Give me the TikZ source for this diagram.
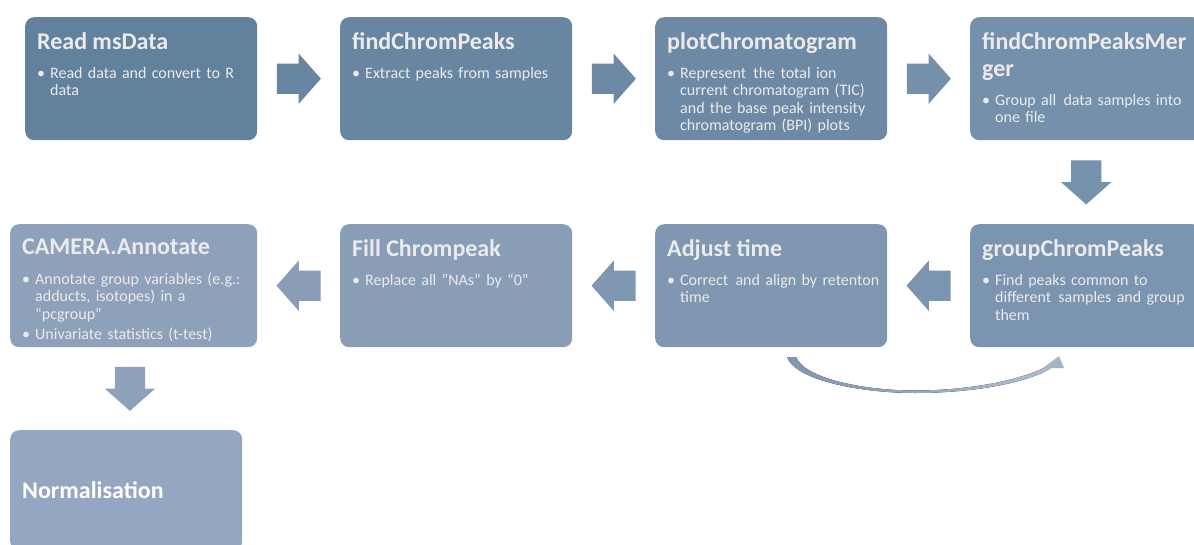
\documentclass[tikz,border=0pt]{standalone}
\usepackage{fontspec}
\setmainfont{Carlito}
\usetikzlibrary{positioning,calc,shapes.arrows}

\definecolor{readcol}{HTML}{62819D}
\definecolor{findcol}{HTML}{6886A2}
\definecolor{plotcol}{HTML}{6E89A6}
\definecolor{mergecol}{HTML}{7590AB}
\definecolor{groupcol}{HTML}{7B94AF}
\definecolor{adjustcol}{HTML}{8097B1}
\definecolor{fillcol}{HTML}{899DB7}
\definecolor{cameracol}{HTML}{8EA1BA}
\definecolor{normcol}{HTML}{95A6C0}

\newcommand{\steptitle}[1]{{\fontsize{24}{27}\selectfont\bfseries #1\par}\vspace{12pt}}
\newcommand{\stepitem}[1]{\par\noindent\makebox[13pt][l]{\textbullet}%
  \parbox[t]{\dimexpr\hsize-13pt\relax}{\raggedright #1}}

\begin{document}
\begin{tikzpicture}[x=1pt,y=-1pt,
  stepbox/.style={rounded corners=9pt, minimum width=232pt, minimum height=123pt,
    anchor=north west, inner sep=0pt},
  steptext/.style={anchor=north west, text width=222pt, inner xsep=12pt, inner ysep=15pt,
    align=left, text=white!92!black, font=\fontsize{16}{17.4}\selectfont},
  flowarrow/.style={single arrow, single arrow head extend=10pt, single arrow tip angle=97,
    minimum height=44pt, inner xsep=0pt, inner ysep=15pt, anchor=tail}
]
\useasboundingbox (0,0) rectangle (1194,544);

% first row
\node[stepbox, fill=readcol] (read) at (25,17) {};
\node[stepbox, fill=findcol] (find) at (340,17) {};
\node[stepbox, fill=plotcol] (plot) at (655,17) {};
\node[stepbox, fill=mergecol] (merge) at (970,17) {};

% second row
\node[stepbox, fill=groupcol] (group) at (970,224) {};
\node[stepbox, fill=adjustcol] (adjust) at (655,224) {};
\node[stepbox, fill=fillcol] (fill) at (340,224) {};
\node[stepbox, fill=cameracol, minimum width=247pt] (camera) at (10,224) {};

% last step
\node[stepbox, fill=normcol, minimum height=120pt, text width=208pt, inner xsep=12pt,
  align=left, text=white, font=\fontsize{24}{27}\selectfont\bfseries] (norm) at (10,430) {Normalisation};

% texts
\node[steptext] (readT) at (read.north west) {\steptitle{Read msData}%
  \stepitem{Read data and convert to R\newline data}};
\node[steptext] (findT) at (find.north west) {\steptitle{findChromPeaks}%
  \stepitem{Extract peaks from samples}};
\node[steptext] (plotT) at (plot.north west) {\steptitle{plotChromatogram}%
  \stepitem{Represent \kern2pt the total ion\newline current chromatogram (TIC)\newline and the base peak intensity\newline chromatogram (BPI) plots}};
\node[steptext] (mergeT) at (merge.north west) {\steptitle{findChromPeaksMer\newline ger}%
  \stepitem{Group all \kern2pt data samples into\newline one file}};
\node[steptext] (groupT) at (group.north west) {\steptitle{groupChromPeaks}%
  \stepitem{Find peaks common to\newline different \kern2pt samples and group\newline them}};
\node[steptext] (adjustT) at (adjust.north west) {\steptitle{Adjust time}%
  \stepitem{Correct \kern2pt and align by retenton\newline time}};
\node[steptext] (fillT) at (fill.north west) {\steptitle{Fill Chrompeak}%
  \stepitem{Replace all ”NAs” by “0”}};
\node[steptext, text width=240pt] (cameraT) at (camera.north west) {\steptitle{CAMERA.Annotate}%
  \stepitem{Annotate group variables (e.g.:\newline adducts, isotopes) in a\newline “pcgroup”}%
  \par\vspace{5pt}\stepitem{Univariate statistics (t-test)}};

% block arrows
\node[flowarrow, fill=findcol] (a1) at ($(read.east)!0.5!(find.west)+(-22,0)$) {};
\node[flowarrow, fill=plotcol] (a2) at ($(find.east)!0.5!(plot.west)+(-22,0)$) {};
\node[flowarrow, fill=mergecol] (a3) at ($(plot.east)!0.5!(merge.west)+(-22,0)$) {};
\node[flowarrow, fill=mergecol!85!groupcol, rotate=-90] (a4) at ($(merge.south)!0.5!(group.north)+(0,-22)$) {};
\node[flowarrow, fill=groupcol, rotate=180] (a5) at ($(group.west)!0.5!(adjust.east)+(22,0)$) {};
\node[flowarrow, fill=adjustcol, rotate=180] (a6) at ($(adjust.west)!0.5!(fill.east)+(22,0)$) {};
\node[flowarrow, fill=fillcol, rotate=180] (a7) at ($(fill.west)!0.5!(camera.east)+(22,0)$) {};
\node[flowarrow, fill=cameracol, rotate=-90] (a8) at ($(camera.south)!0.5!(norm.north)+(0,-22)$) {};

% curved arrow back under the second row
\coordinate (c1) at (787,357);
\coordinate (c2) at (796,357);
\coordinate (c3) at (915,393);
\coordinate (c4) at (1051,368);
\coordinate (c5) at (1049,365);
\fill[left color=adjustcol, middle color=readcol!90!black, right color=normcol!75!white]
  (c1) .. controls (795,380) and (860,393) .. (c3)
  .. controls (975,393) and (1030,382) .. (c4)
  -- (c5) .. controls (1028,378) and (975,390.5) .. (915,390.5)
  .. controls (862,390.5) and (804,378) .. (c2) -- cycle;
\fill[normcol!85!white] (1043,368) -- (1059,356) -- (1064,368) -- cycle;
\end{tikzpicture}
\end{document}
